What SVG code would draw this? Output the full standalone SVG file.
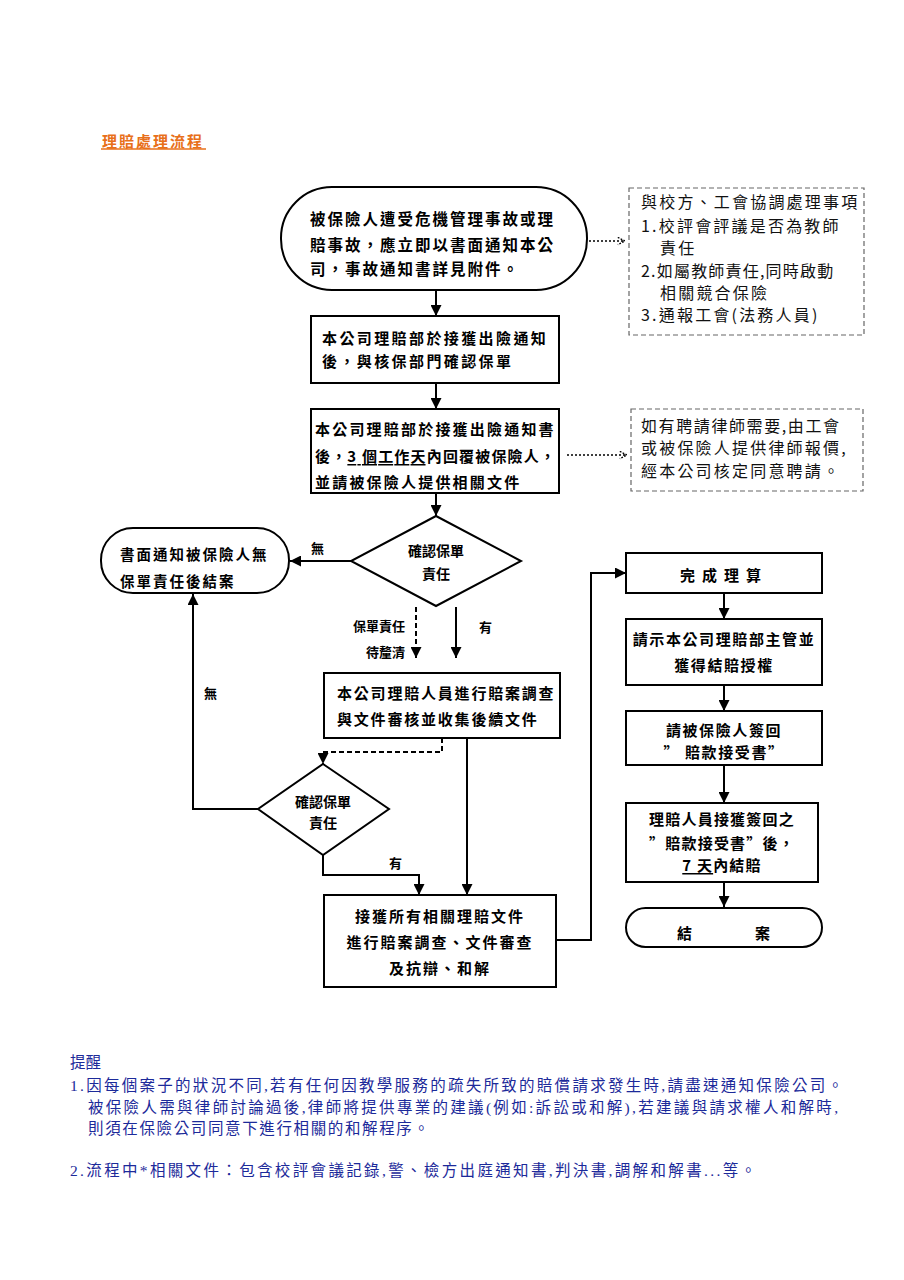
<svg xmlns="http://www.w3.org/2000/svg" width="904" height="1280" viewBox="0 0 904 1280">
<style>
.bg{fill:#fff}
.box{fill:#fff;stroke:#000;stroke-width:2}
.dbox{fill:#fff;stroke:#666;stroke-width:1.2;stroke-dasharray:5,3}
.t{font-family:"Noto Sans CJK TC","Noto Sans CJK SC",sans-serif;font-size:15px;font-weight:bold;fill:#000;dominant-baseline:central}
.n{font-family:"Noto Sans CJK TC","Noto Sans CJK SC",sans-serif;font-size:16px;font-weight:normal;fill:#111;dominant-baseline:central}
.s{font-family:"Noto Sans CJK TC","Noto Sans CJK SC",sans-serif;font-size:13px;font-weight:bold;fill:#000;dominant-baseline:central}
.b{font-family:"Liberation Serif","Noto Sans CJK TC",serif;font-size:15.5px;fill:#1c2a9a;dominant-baseline:central}
.c{fill:none;stroke:#000;stroke-width:2}
.cd{fill:none;stroke:#000;stroke-width:2;stroke-dasharray:5,3}
.co{fill:none;stroke:#000;stroke-width:1.5;stroke-dasharray:2,2}
</style>
<defs>
<marker id="ah" viewBox="0 0 10 10" refX="10" refY="5" markerWidth="5.5" markerHeight="5.5" orient="auto" markerUnits="strokeWidth">
<path d="M0,0 L10,5 L0,10 z" fill="#000"/>
</marker>
<marker id="ao" viewBox="0 0 10 10" refX="10" refY="5" markerWidth="6" markerHeight="6" orient="auto" markerUnits="strokeWidth">
<path d="M2,1 L10,5 L2,9" fill="none" stroke="#000" stroke-width="1.5" stroke-dasharray="2,1.5"/>
</marker>
</defs>
<rect class="bg" x="0" y="0" width="904" height="1280"/>

<g id="title">
<text x="102" y="140" style="font-family:'Noto Sans CJK TC',sans-serif;font-size:15px;font-weight:bold;fill:#e8701a;dominant-baseline:central;letter-spacing:2px">理賠處理流程</text>
<line x1="101" y1="149" x2="206" y2="149" stroke="#e8701a" stroke-width="1.5"/>
</g>

<g id="connectors">
<line class="co" x1="589" y1="241" x2="625" y2="241" marker-end="url(#ao)"/>
<line class="co" x1="567" y1="455" x2="627" y2="455" marker-end="url(#ao)"/>
<line class="c" x1="436" y1="290" x2="436" y2="316" marker-end="url(#ah)"/>
<line class="c" x1="436" y1="383" x2="436" y2="409" marker-end="url(#ah)"/>
<line class="c" x1="436" y1="493" x2="436" y2="516" marker-end="url(#ah)"/>
<line class="c" x1="351" y1="561" x2="290" y2="561" marker-end="url(#ah)"/>
<line class="cd" x1="416" y1="607" x2="416" y2="658" marker-end="url(#ah)"/>
<line class="c" x1="456" y1="607" x2="456" y2="658" marker-end="url(#ah)"/>
<polyline class="cd" points="442,738 442,752 323,752 323,764" marker-end="url(#ah)"/>
<polyline class="c" points="258,809 193,809 193,594" marker-end="url(#ah)"/>
<polyline class="c" points="323,855 323,875 419,875 419,895" marker-end="url(#ah)"/>
<line class="c" x1="467" y1="738" x2="467" y2="895" marker-end="url(#ah)"/>
<polyline class="c" points="556,940 591,940 591,573 626,573" marker-end="url(#ah)"/>
<line class="c" x1="724" y1="593" x2="724" y2="619" marker-end="url(#ah)"/>
<line class="c" x1="724" y1="685" x2="724" y2="711" marker-end="url(#ah)"/>
<line class="c" x1="724" y1="765" x2="724" y2="803" marker-end="url(#ah)"/>
<line class="c" x1="724" y1="882" x2="724" y2="907" marker-end="url(#ah)"/>
<text class="s" x="311" y="547">無</text>
<text class="s" x="405" y="625" text-anchor="end">保單責任</text>
<text class="s" x="405" y="651" text-anchor="end">待釐清</text>
<text class="s" x="479" y="626">有</text>
<text class="s" x="204" y="692">無</text>
<text class="s" x="389" y="862">有</text>
</g>

<g id="n1">
<rect class="box" x="281" y="187" width="306" height="103" rx="51" ry="51"/>
<text class="t" x="310" y="218" style="font-size:15.5px;letter-spacing:2px">被保險人遭受危機管理事故或理</text>
<text class="t" x="310" y="244" style="font-size:15.5px;letter-spacing:2px">賠事故，應立即以書面通知本公</text>
<text class="t" x="310" y="268" style="font-size:15.5px;letter-spacing:2px">司，事故通知書詳見附件。</text>
</g>

<g id="note1">
<rect class="dbox" x="629" y="188" width="235" height="147"/>
<text class="n" x="641" y="201" style="letter-spacing:2.2px">與校方、工會協調處理事項</text>
<text class="n" x="641" y="225" style="letter-spacing:2.2px">1.校評會評議是否為教師</text>
<text class="n" x="660" y="247" style="letter-spacing:2.2px">責任</text>
<text class="n" x="641" y="270" style="letter-spacing:1.2px">2.如屬教師責任,同時啟動</text>
<text class="n" x="660" y="292" style="letter-spacing:2.2px">相關競合保險</text>
<text class="n" x="641" y="314" style="letter-spacing:2.2px">3.通報工會(法務人員)</text>
</g>

<g id="n2">
<rect class="box" x="311" y="316" width="248" height="67"/>
<text class="t" x="322" y="337" style="letter-spacing:2.4px">本公司理賠部於接獲出險通知</text>
<text class="t" x="322" y="360" style="letter-spacing:2.4px">後，與核保部門確認保單</text>
</g>

<g id="n3">
<rect class="box" x="311" y="409" width="248" height="84"/>
<text class="t" x="315" y="428" style="letter-spacing:2.2px">本公司理賠部於接獲出險通知書</text>
<text class="t" x="315" y="455" textLength="240" lengthAdjust="spacing">後，<tspan text-decoration="underline">3 個工作天</tspan>內回覆被保險人，</text>
<text class="t" x="315" y="481" style="letter-spacing:2.2px">並請被保險人提供相關文件</text>
</g>

<g id="note2">
<rect class="dbox" x="631" y="409" width="232" height="82"/>
<text class="n" x="641" y="425" style="letter-spacing:1.6px">如有聘請律師需要,由工會</text>
<text class="n" x="641" y="447" style="letter-spacing:2.2px">或被保險人提供律師報價,</text>
<text class="n" x="641" y="470" style="letter-spacing:2.2px">經本公司核定同意聘請。</text>
</g>

<g id="d1">
<polygon class="box" points="436,516 521,561 436,606 351,561"/>
<text class="t" x="436" y="550" text-anchor="middle" style="font-size:14px">確認保單</text>
<text class="t" x="436" y="573" text-anchor="middle" style="font-size:14px">責任</text>
</g>

<g id="end1">
<rect class="box" x="101" y="528" width="188" height="65" rx="32" ry="32"/>
<text class="t" x="120" y="553" style="font-size:14.5px;letter-spacing:2px">書面通知被保險人無</text>
<text class="t" x="120" y="580" style="font-size:14.5px;letter-spacing:2px">保單責任後結案</text>
</g>

<g id="n4">
<rect class="box" x="324" y="673" width="236" height="65"/>
<text class="t" x="337" y="692" style="letter-spacing:1.8px">本公司理賠人員進行賠案調查</text>
<text class="t" x="337" y="718" style="letter-spacing:1.8px">與文件審核並收集後續文件</text>
</g>

<g id="d2">
<polygon class="box" points="323,764 389,809 323,855 258,809"/>
<text class="t" x="323" y="801" text-anchor="middle" style="font-size:14px">確認保單</text>
<text class="t" x="323" y="822" text-anchor="middle" style="font-size:14px">責任</text>
</g>

<g id="n5">
<rect class="box" x="324" y="895" width="232" height="92"/>
<text class="t" x="440" y="915" text-anchor="middle" style="letter-spacing:2px">接獲所有相關理賠文件</text>
<text class="t" x="440" y="941" text-anchor="middle" style="letter-spacing:2px">進行賠案調查、文件審查</text>
<text class="t" x="440" y="967" text-anchor="middle" style="letter-spacing:2px">及抗辯、和解</text>
</g>

<g id="n6">
<rect class="box" x="626" y="553" width="196" height="40"/>
<text class="t" x="724" y="574" text-anchor="middle" style="letter-spacing:7px">完成理算</text>
</g>

<g id="n7">
<rect class="box" x="626" y="619" width="196" height="66"/>
<text class="t" x="724" y="638" text-anchor="middle" style="letter-spacing:1.6px">請示本公司理賠部主管並</text>
<text class="t" x="724" y="664" text-anchor="middle" style="letter-spacing:1.6px">獲得結賠授權</text>
</g>

<g id="n8">
<rect class="box" x="626" y="711" width="196" height="54"/>
<text class="t" x="724" y="729" text-anchor="middle" style="letter-spacing:1.6px">請被保險人簽回</text>
<text class="t" x="724" y="751" text-anchor="middle" style="letter-spacing:1.6px">” 賠款接受書”</text>
</g>

<g id="n9">
<rect class="box" x="626" y="803" width="192" height="79"/>
<text class="t" x="722" y="818" text-anchor="middle" style="letter-spacing:1.2px">理賠人員接獲簽回之</text>
<text class="t" x="722" y="842" text-anchor="middle" style="letter-spacing:1.2px">”賠款接受書”後，</text>
<text class="t" x="722" y="864" text-anchor="middle" style="letter-spacing:1.2px"><tspan text-decoration="underline">7 天</tspan>內結賠</text>
</g>

<g id="end2">
<rect class="box" x="626" y="908" width="196" height="39" rx="19.5" ry="19.5"/>
<text class="t" x="677" y="932">結</text>
<text class="t" x="755" y="932">案</text>
</g>

<g id="remarks">
<text class="b" x="70" y="1062">提醒</text>
<text class="b" x="70" y="1085" textLength="773" lengthAdjust="spacing">1.因每個案子的狀況不同,若有任何因教學服務的疏失所致的賠償請求發生時,請盡速通知保險公司。</text>
<text class="b" x="88" y="1107" textLength="750" lengthAdjust="spacing">被保險人需與律師討論過後,律師將提供專業的建議(例如:訴訟或和解),若建議與請求權人和解時,</text>
<text class="b" x="88" y="1128" textLength="341" lengthAdjust="spacing">則須在保險公司同意下進行相關的和解程序。</text>
<text class="b" x="70" y="1170" textLength="686" lengthAdjust="spacing">2.流程中*相關文件：包含校評會議記錄,警、檢方出庭通知書,判決書,調解和解書...等。</text>
</g>
</svg>
